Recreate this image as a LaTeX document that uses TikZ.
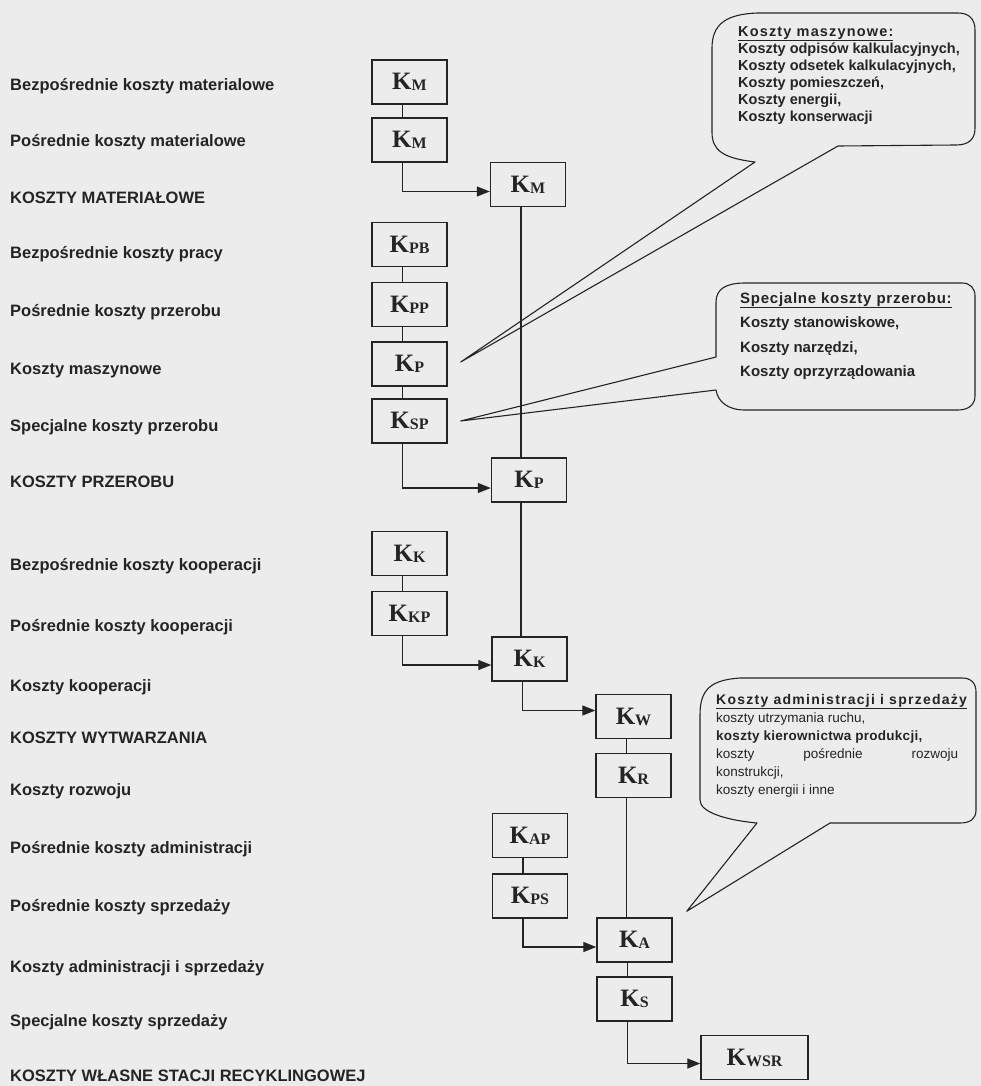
\documentclass[tikz,border=0pt]{standalone}
\usepackage{fontspec}
\setmainfont{Liberation Sans}
\newfontfamily\serifk{Liberation Serif}
\usetikzlibrary{arrows.meta}

\definecolor{papier}{HTML}{ECECEC}
\definecolor{tusz}{HTML}{242424}

\newcommand{\kk}[1]{{\serifk\bfseries\fontsize{25}{25}\selectfont K\raisebox{-1pt}{\fontsize{16}{16}\selectfont #1}}}

\tikzset{
  kbox/.style={draw=tusz, line width=1.4pt, minimum width=75pt, minimum height=44pt, inner sep=0pt, text=tusz},
  lbl/.style={anchor=west, inner sep=0pt, text=tusz, text height=11.8pt, text depth=0pt,
    font=\bfseries\fontsize{16.5}{16.5}\selectfont},
  link/.style={draw=tusz, line width=1.2pt},
  flow/.style={link, -{Triangle[length=13pt,width=10pt]}},
  bubble/.style={draw=tusz, line width=1.1pt, line join=round},
  note/.style={anchor=north west, inner sep=0pt, align=left, text=tusz},
}

\begin{document}
\begin{tikzpicture}[x=1pt, y=-1pt]
  % Background
  \fill[papier] (0,0) rectangle (981,1086);
  \useasboundingbox (0,0) rectangle (981,1086);

  % Cost labels
  \node[lbl] (lbezmat) at (10,85) {Bezpośrednie koszty materialowe};
  \node[lbl] (lposmat) at (10,141) {Pośrednie koszty materialowe};
  \node[lbl] (lkmat) at (10,198) {KOSZTY MATERIAŁOWE};
  \node[lbl] (lbezpr) at (10,253) {Bezpośrednie koszty pracy};
  \node[lbl] (lposprz) at (10,311) {Pośrednie koszty przerobu};
  \node[lbl] (lmasz) at (10,369) {Koszty maszynowe};
  \node[lbl] (lspecprz) at (10,426) {Specjalne koszty przerobu};
  \node[lbl] (lkprz) at (10,482) {KOSZTY PRZEROBU};
  \node[lbl] (lbezkoop) at (10,565) {Bezpośrednie koszty kooperacji};
  \node[lbl] (lposkoop) at (10,626) {Pośrednie koszty kooperacji};
  \node[lbl] (lkoop) at (10,686) {Koszty kooperacji};
  \node[lbl] (lkwyt) at (10,738) {KOSZTY WYTWARZANIA};
  \node[lbl] (lrozw) at (10,790) {Koszty rozwoju};
  \node[lbl] (lposadm) at (10,848) {Pośrednie koszty administracji};
  \node[lbl] (lpossprz) at (10,906) {Pośrednie koszty sprzedaży};
  \node[lbl] (ladmsprz) at (10,967) {Koszty administracji i sprzedaży};
  \node[lbl] (lspecsprz) at (10,1021) {Specjalne koszty sprzedaży};
  \node[lbl] (lkwsr) at (10,1076) {KOSZTY WŁASNE STACJI RECYKLINGOWEJ};

  % Cost boxes
  \node[kbox] (km1) at (409.5,82) {\kk{M}};
  \node[kbox] (km2) at (409.5,140) {\kk{M}};
  \node[kbox] (km3) at (528,184.5) {\kk{M}};
  \node[kbox] (kpb) at (409.5,244.5) {\kk{PB}};
  \node[kbox] (kpp) at (409.5,304.5) {\kk{PP}};
  \node[kbox] (kp1) at (409.5,364) {\kk{P}};
  \node[kbox] (ksp) at (409.5,421) {\kk{SP}};
  \node[kbox] (kp2) at (529,480) {\kk{P}};
  \node[kbox] (kk1) at (409.5,553.5) {\kk{K}};
  \node[kbox] (kkp) at (409.5,613.5) {\kk{KP}};
  \node[kbox] (kk2) at (529.5,659) {\kk{K}};
  \node[kbox] (kw) at (633.5,716.5) {\kk{W}};
  \node[kbox] (kr) at (633.5,775.5) {\kk{R}};
  \node[kbox] (kap) at (530,835.5) {\kk{AP}};
  \node[kbox] (kps) at (530,896) {\kk{PS}};
  \node[kbox] (ka) at (634.5,940) {\kk{A}};
  \node[kbox] (ks) at (634.5,999) {\kk{S}};
  \node[kbox, minimum width=107pt] (kwsr) at (754.5,1057.5) {\kk{WSR}};

  % Short links between stacked boxes
  \draw[link] ([xshift=-7pt]km1.south) -- ([xshift=-7pt]km2.north);
  \draw[link] ([xshift=-7pt]kpb.south) -- ([xshift=-7pt]kpp.north);
  \draw[link] ([xshift=-7pt]kpp.south) -- ([xshift=-7pt]kp1.north);
  \draw[link] ([xshift=-7pt]kp1.south) -- ([xshift=-7pt]ksp.north);
  \draw[link] ([xshift=-7pt]kk1.south) -- ([xshift=-7pt]kkp.north);
  \draw[link] ([xshift=-7pt]kw.south) -- ([xshift=-7pt]kr.north);
  \draw[link] ([xshift=-7pt]kap.south) -- ([xshift=-7pt]kps.north);
  \draw[link] ([xshift=-7pt]ka.south) -- ([xshift=-7pt]ks.north);

  % Main line
  \draw[link] ([xshift=-7pt]km3.south) -- ([xshift=-7pt]km3.south |- kp2.north);
  \draw[link] ([xshift=-8pt]kp2.south) -- ([xshift=-8pt]kp2.south |- kk2.north);
  \draw[link] ([xshift=-7pt]kr.south) -- ([xshift=-7pt]kr.south |- ka.north);

  % Arrows
  \draw[flow] ([xshift=-7pt]km2.south) |- ([yshift=-7pt]km3.west);
  \draw[flow] ([xshift=-7pt]ksp.south) |- ([yshift=-8pt]kp2.west);
  \draw[flow] ([xshift=-7pt]kkp.south) |- ([yshift=-6pt]kk2.west);
  \draw[flow] ([xshift=-7pt]kk2.south) |- ([yshift=6pt]kw.west);
  \draw[flow] ([xshift=-7pt]kps.south) |- ([yshift=-7pt]ka.west);
  \draw[flow] ([xshift=-7pt]ks.south) |- ([yshift=-6pt]kwsr.west);

  % Callout: machine costs
  \coordinate (tipmasz) at ([xshift=13pt,yshift=2pt]kp1.east);
  \draw[bubble] (tipmasz) -- (755,162) .. controls (722,158) and (712,150) .. (712,132)
    -- (712,48) .. controls (712,25) and (725,14) .. (758,13) -- (958,13)
    .. controls (969,13) and (975,19) .. (975,30) -- (975,128)
    .. controls (975,139) and (969,145) .. (956,145) -- (838,146) -- cycle;
  \node[note, font=\bfseries\fontsize{14.5}{17}\selectfont] (tmasz) at (738,26)
    {\underline{\addfontfeatures{LetterSpace=8}Koszty maszynowe:}\\
     Koszty odpisów kalkulacyjnych,\\
     Koszty odsetek kalkulacyjnych,\\
     Koszty pomieszczeń,\\
     Koszty energii,\\
     Koszty konserwacji};

  % Callout: special processing costs
  \coordinate (tipspec) at ([xshift=13pt]ksp.east);
  \draw[bubble] (tipspec) -- (716,357) -- (716,302) .. controls (716,289) and (726,283) .. (745,283)
    -- (962,283) .. controls (970,283) and (975,288) .. (975,296) -- (975,396)
    .. controls (975,405) and (968,410) .. (958,410) -- (745,410)
    .. controls (728,410) and (718,402) .. (716,390) -- cycle;
  \node[note, font=\bfseries\fontsize{15}{24.5}\selectfont] (tspec) at (740,292)
    {\underline{\addfontfeatures{LetterSpace=5}Specjalne koszty przerobu:}\\
     Koszty stanowiskowe,\\
     Koszty narzędzi,\\
     Koszty oprzyrządowania};

  % Callout: administration and sales
  \coordinate (tipadm) at ([xshift=14pt,yshift=6pt]ka.north east);
  \draw[bubble] (tipadm) -- (757,823) .. controls (725,820) and (700,812) .. (700,800)
    -- (700,715) .. controls (700,690) and (710,680) .. (740,678) -- (962,678)
    .. controls (971,678) and (976,683) .. (976,692) -- (976,810)
    .. controls (976,819) and (970,823) .. (960,823) -- (830,823) -- cycle;
  \node[note, font=\fontsize{13.5}{18}\selectfont] (tadm) at (716,694)
    {\underline{{\bfseries\fontsize{14}{18}\selectfont\addfontfeatures{LetterSpace=9}Koszty administracji i sprzedaży}}\\
     koszty utrzymania ruchu,\\
     {\bfseries\addfontfeatures{LetterSpace=2}koszty kierownictwa produkcji,}\\
     \makebox[242pt][s]{koszty pośrednie rozwoju}\\
     konstrukcji,\\
     koszty energii i inne};
\end{tikzpicture}
\end{document}
